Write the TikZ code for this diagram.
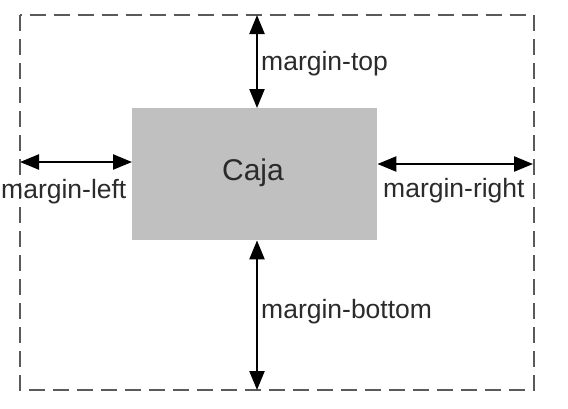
\documentclass[tikz,border=0pt]{standalone}
\usepackage{fontspec}
\setmainfont{Liberation Sans}
\usetikzlibrary{arrows.meta}
\definecolor{boxgray}{HTML}{C0C0C0}
\definecolor{dashgray}{HTML}{5A5A5A}
\definecolor{txt}{HTML}{2B2B2B}
\begin{document}
\begin{tikzpicture}[x=1pt,y=-1pt,
  dim/.style={line width=2.3pt,{Triangle[length=19pt,width=15pt]}-{Triangle[length=19pt,width=15pt]}},
  lbl/.style={inner sep=0pt,text=txt,font=\fontsize{26.5}{27}\selectfont,anchor=base west}]
\useasboundingbox (0,0) rectangle (568,408);
\draw[dashgray,line width=2pt,dash pattern=on 16pt off 8pt] (20,15) rectangle (534,390);
\node[fill=boxgray,minimum width=245pt,minimum height=132pt,inner sep=0pt,anchor=north west] (caja) at (132,108) {};
\node[text=txt,font=\fontsize{30}{31}\selectfont,anchor=base] (cajat) at (253,180) {Caja};
\coordinate (otop) at (257,15);
\coordinate (obot) at (257,390);
\coordinate (oleft) at (20,162);
\coordinate (oright) at (533,164);
\draw[dim] (otop) -- (otop |- caja.north);
\draw[dim] (caja.south -| obot) -- (obot);
\draw[dim] (oleft) -- (oleft -| caja.west);
\draw[dim] (oright -| caja.east) -- (oright);
\node[lbl] (lt) at (261,70) {margin-top};
\node[lbl] (lb) at (261,318) {margin-bottom};
\node[lbl] (ll) at (1,198) {margin-left};
\node[lbl] (lr) at (383,197) {margin-right};
\end{tikzpicture}
\end{document}
